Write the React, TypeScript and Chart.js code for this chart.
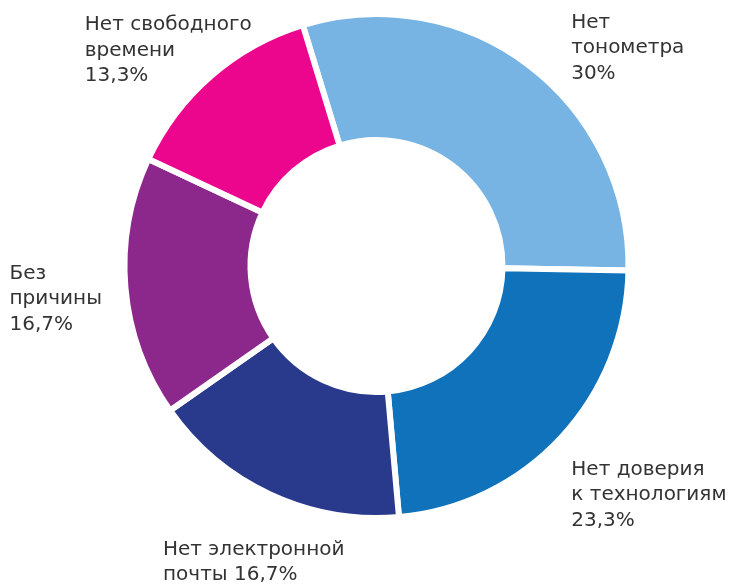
import React, { useEffect, useRef } from "react";
import { Chart, registerables } from "chart.js";

Chart.register(...registerables);

const categories = [
  ["Нет", "тонометра", "30%"],
  ["Нет доверия", "к технологиям", "23,3%"],
  ["Нет электронной", "почты 16,7%"],
  ["Без", "причины", "16,7%"],
  ["Нет свободного", "времени", "13,3%"],
];
const values = [30, 23.3, 16.7, 16.7, 13.3];
const colors = ["#78B4E3", "#0F72BA", "#293A8C", "#8C288C", "#EC068D"];
// label anchor: offset from arc outer-mid point (dx, dy) in px
const labelOffsets = [
  [37, -34],
  [3, 25],
  [-103, 46],
  [-106, -15],
  [-120, -43],
];

const labelPlugin = {
  id: "outerLabels",
  afterDraw(chart: any) {
    const ctx = chart.ctx;
    const meta = chart.getDatasetMeta(0);
    ctx.save();
    ctx.font = '20px "DejaVu Sans", sans-serif';
    ctx.fillStyle = "#333333";
    ctx.textAlign = "left";
    ctx.textBaseline = "middle";
    meta.data.forEach((arc: any, i: number) => {
      const p = arc.getProps(["x", "y", "startAngle", "endAngle", "outerRadius"], true);
      const mid = (p.startAngle + p.endAngle) / 2;
      const r = p.outerRadius + 10;
      const x = p.x + Math.cos(mid) * r + labelOffsets[i][0];
      const y = p.y + Math.sin(mid) * r + labelOffsets[i][1];
      categories[i].forEach((line, j) => {
        ctx.fillText(line, x, y + j * 25.5);
      });
    });
    ctx.restore();
  },
};

export default function App() {
  const ref = useRef<HTMLCanvasElement>(null);
  useEffect(() => {
    document.body.style.margin = "0";
    const chart = new Chart(ref.current!, {
      type: "doughnut",
      data: {
        labels: categories.map((c) => c.join(" ")),
        datasets: [
          {
            data: values,
            backgroundColor: colors,
            borderColor: "#ffffff",
            borderWidth: 6,
          },
        ],
      },
      options: {
        animation: false,
        responsive: false,
        rotation: -17,
        cutout: "50%",
        layout: { padding: { left: 121, right: 101, top: 11, bottom: 63 } },
        plugins: { legend: { display: false }, tooltip: { enabled: false } },
      },
      plugins: [labelPlugin],
    });
    return () => chart.destroy();
  }, []);
  return <canvas ref={ref} width={733} height={584} style={{ display: "block" }} />;
}
